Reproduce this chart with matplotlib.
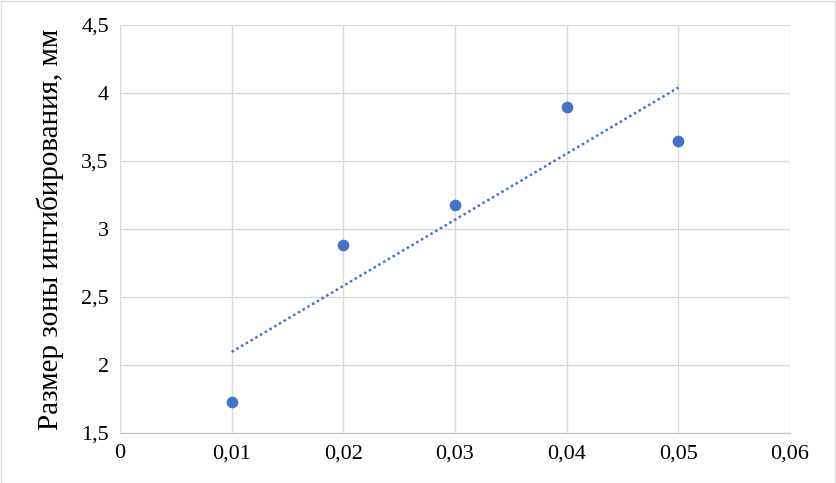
import numpy as np
import matplotlib.pyplot as plt

plt.rcParams["font.family"] = ["Liberation Serif", "DejaVu Serif"]

# Concentration and inhibition zone size
conc = [0.01, 0.02, 0.03, 0.04, 0.05]
zone = [1.73, 2.88, 3.18, 3.90, 3.65]
xticks = [0, 0.01, 0.02, 0.03, 0.04, 0.05, 0.06]
yticks = [1.5, 2, 2.5, 3, 3.5, 4, 4.5]

fig = plt.figure(figsize=(8.36, 4.83), dpi=100)
fig.patches.append(plt.Rectangle((0.001, 0.001), 0.998, 0.997, transform=fig.transFigure,
                                 fill=False, edgecolor="#d9d9d9", linewidth=1))
ax = fig.add_axes([120 / 836, 1 - 433 / 483, 670 / 836, 408 / 483])

# Linear trendline
k, b = np.polyfit(conc, zone, 1)
xs = np.array([conc[0], conc[-1]])
ax.plot(xs, k * xs + b, linestyle=(0, (1, 1.2)), color="#4472c4", linewidth=1.8)
ax.scatter(conc, zone, s=55, color="#4472c4", zorder=3)

ax.set_xlim(0, 0.06)
ax.set_ylim(1.5, 4.5)
ax.set_xticks(xticks)
ax.set_yticks(yticks)
ax.set_xticklabels([f"{t:g}".replace(".", ",") for t in xticks], fontsize=16)
ax.set_yticklabels([f"{t:g}".replace(".", ",") for t in yticks], fontsize=16)
ax.grid(True, color="#d9d9d9", linewidth=1)
ax.set_axisbelow(True)
for side in ["top", "right", "left"]:
    ax.spines[side].set_visible(False)
ax.spines["bottom"].set_color("#bfbfbf")
ax.tick_params(length=0, pad=8)
ax.set_ylabel("Размер зоны ингибирования, мм", fontsize=21, labelpad=12)

fig.savefig("out.png", dpi=100)
